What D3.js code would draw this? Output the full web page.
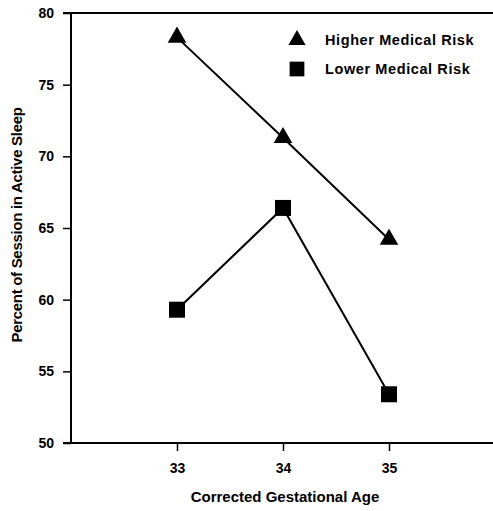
<!DOCTYPE html>
<html><head><meta charset="utf-8">
<script src="https://cdn.jsdelivr.net/npm/d3@7"></script>
<style>body{margin:0;background:#fff}svg{display:block}text{font-family:"Liberation Sans",Arial,sans-serif;fill:#000}</style>
</head><body>
<svg id="c" width="493" height="511"></svg>
<script>
const ages = [33, 34, 35];
const higherRisk = [78.3, 71.3, 64.2];
const lowerRisk = [59.3, 66.4, 53.4];
const yTicks = [50, 55, 60, 65, 70, 75, 80];
const seriesNames = ["Higher Medical Risk", "Lower Medical Risk"];

const W = 493, H = 511;
const svg = d3.select("#c");
const x = d3.scaleLinear().domain([32, 36]).range([71, 495]);
const y = d3.scaleLinear().domain([50, 80]).range([443, 13]);

// y axis
const ya = svg.append("g").attr("transform", `translate(${x(32)},0)`)
  .call(d3.axisLeft(y).tickValues(yTicks).tickSize(8).tickPadding(9).tickSizeOuter(0));
ya.select(".domain").remove();
ya.selectAll("line").attr("stroke", "#000").attr("stroke-width", 1.5);
ya.selectAll("text").attr("font-size", 14).attr("font-family", "Liberation Sans, Arial, sans-serif").attr("font-weight", "bold");

// x axis
const xa = svg.append("g").attr("transform", `translate(0,${y(50)})`)
  .call(d3.axisBottom(x).tickValues(ages).tickSize(8).tickPadding(12).tickSizeOuter(0).tickFormat(d3.format("d")));
xa.select(".domain").remove();
xa.selectAll("line").attr("stroke", "#000").attr("stroke-width", 1.5);
xa.selectAll("text").attr("font-size", 14).attr("font-family", "Liberation Sans, Arial, sans-serif").attr("font-weight", "bold");

// frame lines
svg.append("line").attr("x1", x(32)).attr("x2", x(32)).attr("y1", y(80)).attr("y2", y(50)).attr("stroke", "#000").attr("stroke-width", 2);
svg.append("line").attr("x1", x(32) - 8).attr("x2", W).attr("y1", y(80)).attr("y2", y(80)).attr("stroke", "#000").attr("stroke-width", 2);
svg.append("line").attr("x1", x(32) - 8).attr("x2", W).attr("y1", y(50)).attr("y2", y(50)).attr("stroke", "#000").attr("stroke-width", 2);

const line = d3.line().x(d => x(d[0])).y(d => y(d[1]));
const series = [
  {name: seriesNames[0], vals: higherRisk, sym: d3.symbolTriangle, size: 150},
  {name: seriesNames[1], vals: lowerRisk, sym: d3.symbolSquare, size: 256}
];
series.forEach(s => {
  const pts = ages.map((a, i) => [a, s.vals[i]]);
  svg.append("path").attr("d", line(pts)).attr("fill", "none").attr("stroke", "#000").attr("stroke-width", 2);
  svg.selectAll(null).data(pts).enter().append("path")
    .attr("d", d3.symbol().type(s.sym).size(s.size))
    .attr("transform", d => `translate(${x(d[0])},${y(d[1])})`)
    .attr("fill", "#000");
});

// legend
series.forEach((s, i) => {
  const ly = 40 + i * 29;
  svg.append("path").attr("d", d3.symbol().type(s.sym).size(s.size * 0.85)())
    .attr("transform", `translate(297,${ly})`).attr("fill", "#000");
  svg.append("text").attr("x", 325).attr("y", ly).attr("dy", "0.35em")
    .attr("font-size", 14.5).attr("font-weight", "bold").attr("letter-spacing", 0.6).text(s.name);
});

// axis titles
svg.append("text").attr("x", 285).attr("y", 497).attr("dy", "0.35em").attr("text-anchor", "middle")
  .attr("font-size", 15).attr("font-weight", "bold").text("Corrected Gestational Age");
svg.append("text").attr("transform", `translate(17,${(y(50) + y(80)) / 2 - 3}) rotate(-90)`)
  .attr("dy", "0.35em").attr("text-anchor", "middle")
  .attr("font-size", 15).attr("font-weight", "bold").attr("letter-spacing", -0.3).text("Percent of Session in Active Sleep");
</script>
</body></html>
